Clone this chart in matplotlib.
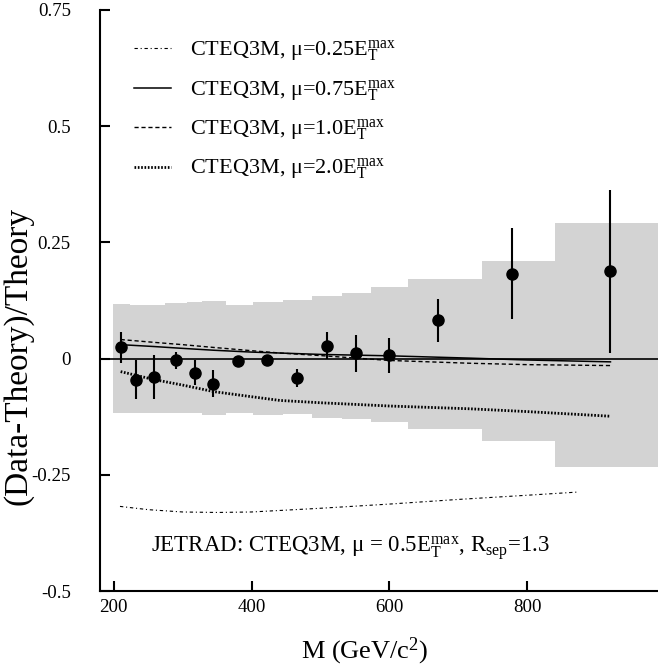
import numpy as np
import matplotlib
matplotlib.use("Agg")
import matplotlib.pyplot as plt

plt.rcParams['font.family'] = ['Liberation Serif', 'DejaVu Serif']
plt.rcParams['mathtext.fontset'] = 'custom'
plt.rcParams['mathtext.rm'] = 'Liberation Serif'
plt.rcParams['mathtext.it'] = 'Liberation Serif:italic'
plt.rcParams['mathtext.bf'] = 'Liberation Serif:bold'

# ---- data ----
mass = [210, 232, 258, 290, 318, 344, 380, 423, 466, 509, 552, 599, 670, 778, 921]
ratio = [0.024, -0.045, -0.039, -0.004, -0.030, -0.054, -0.006, -0.004, -0.042,
         0.028, 0.011, 0.007, 0.082, 0.183, 0.188]
ratio_err = [0.033, 0.042, 0.047, 0.018, 0.027, 0.029, 0.008, 0.008, 0.020,
             0.029, 0.039, 0.038, 0.046, 0.098, 0.175]

band_edges = [199, 223, 242, 274, 306, 328, 363, 402, 445, 488, 531, 573, 627, 735, 840, 990]
band_upper = [0.118, 0.116, 0.116, 0.120, 0.121, 0.123, 0.116, 0.121, 0.127, 0.134,
              0.142, 0.154, 0.172, 0.209, 0.291]
band_lower = [-0.116, -0.116, -0.117, -0.118, -0.118, -0.121, -0.118, -0.121, -0.119,
              -0.127, -0.131, -0.137, -0.152, -0.178, -0.234]

curve_mass = [210, 258, 300, 345, 400, 441, 500, 600, 717, 800, 921]
mu075 = [0.030, 0.026, 0.022, 0.018, 0.014, 0.012, 0.009, 0.006, 0.001, -0.003, -0.007]
mu100 = [0.041, 0.035, 0.030, 0.024, 0.017, 0.012, 0.0065, -0.004, -0.010, -0.013, -0.015]
mu200 = [-0.028, -0.045, -0.057, -0.071, -0.082, -0.090, -0.095, -0.102, -0.108, -0.114, -0.124]

curve_mass_025 = [209, 250, 300, 350, 400, 500, 600, 700, 800, 875]
mu025 = [-0.318, -0.325, -0.330, -0.331, -0.330, -0.322, -0.313, -0.303, -0.294, -0.287]

legend_labels = [
    r'CTEQ3M, μ=0.25$\mathrm{E}_{\mathrm{T}}^{\mathrm{max}}$',
    r'CTEQ3M, μ=0.75$\mathrm{E}_{\mathrm{T}}^{\mathrm{max}}$',
    r'CTEQ3M, μ=1.0$\mathrm{E}_{\mathrm{T}}^{\mathrm{max}}$',
    r'CTEQ3M, μ=2.0$\mathrm{E}_{\mathrm{T}}^{\mathrm{max}}$',
]
xticks = [200, 400, 600, 800]
yticks = [-0.5, -0.25, 0, 0.25, 0.5, 0.75]
ytick_labels = ['-0.5', '-0.25', '0', '0.25', '0.5', '0.75']

# ---- figure ----
fig = plt.figure(figsize=(6.58, 6.67), dpi=100)
ax = fig.add_axes([100/658, 76/667, 558/658, 581/667])

ax.stairs(band_upper, band_edges, baseline=band_lower, fill=True,
          color='#d3d3d3', linewidth=0, zorder=1)
ax.axhline(0, color='black', lw=1.2, zorder=2)

l025, = ax.plot(curve_mass_025, mu025, color='black', lw=0.8,
                dashes=(3, 2.5, 1, 2.5), zorder=3)
l075, = ax.plot(curve_mass, mu075, color='black', lw=1.1, ls='-', zorder=3)
l100, = ax.plot(curve_mass, mu100, color='black', lw=1.0, dashes=(3, 2), zorder=3)
l200, = ax.plot(curve_mass, mu200, color='black', lw=2.0, dashes=(0.6, 0.6), zorder=3)

ax.errorbar(mass, ratio, yerr=ratio_err, fmt='o', color='black', ms=8,
            elinewidth=1.5, capsize=0, zorder=4)

ax.set_xlim(180, 990)
ax.set_ylim(-0.5, 0.75)
ax.set_xticks(xticks)
ax.set_yticks(yticks)
ax.set_yticklabels(ytick_labels)
ax.tick_params(direction='in', length=7, width=1.5, labelsize=13.6)
ax.tick_params(axis='y', pad=21)
ax.tick_params(axis='x', pad=6)
for s in ['top', 'right']:
    ax.spines[s].set_visible(False)
for s in ['left', 'bottom']:
    ax.spines[s].set_linewidth(1.5)

leg = ax.legend([l025, l075, l100, l200], legend_labels, loc='upper left',
                bbox_to_anchor=(0.045, 0.966), frameon=False, fontsize=16,
                handlelength=1.65, handletextpad=0.85, labelspacing=0.62,
                borderaxespad=0)

ax.text(543, -0.407,
        r'JETRAD: CTEQ3M, μ = 0.5$\mathrm{E}_{\mathrm{T}}^{\mathrm{max}}$, R$_{\mathrm{sep}}$=1.3',
        ha='center', va='center', fontsize=16.5)

fig.text(365/658, 1 - 651/667, r'M (GeV/c$^{2}$)', ha='center', va='center', fontsize=19)
fig.text(18/658, 1 - 356/667, '(Data-Theory)/Theory', ha='center', va='center',
         rotation=90, fontsize=24)

fig.savefig('out.png', dpi=100)
